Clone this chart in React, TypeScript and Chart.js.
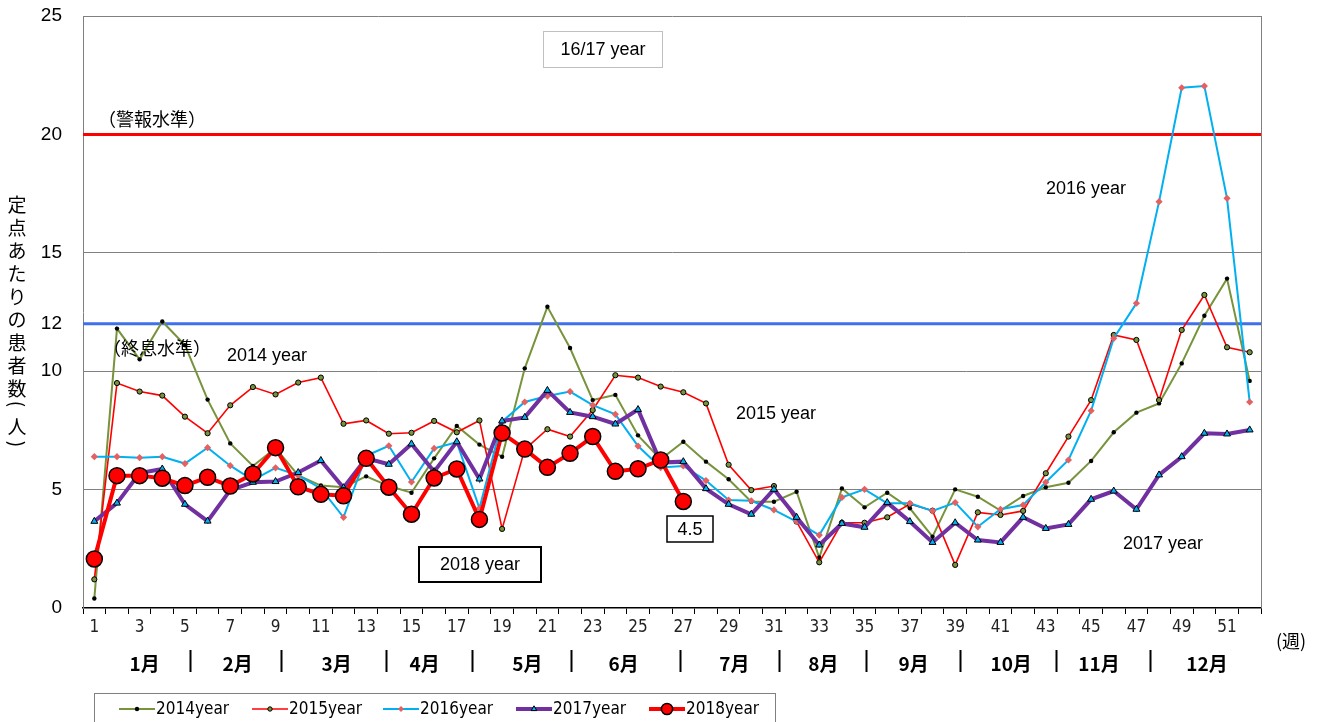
import React, { useEffect, useRef } from 'react';
import { Chart, registerables } from 'chart.js';

Chart.register(...registerables);

// ---------- data ----------
const WEEKS = ['1','2','3','4','5','6','7','8','9','10','11','12','13','14','15','16','17','18','19','20','21','22','23','24','25','26','27','28','29','30','31','32','33','34','35','36','37','38','39','40','41','42','43','44','45','46','47','48','49','50','51','52'];

const Y_TICKS = [0, 5, 10, 12, 15, 20, 25];
const ALERT_LEVEL = 20;
const END_LEVEL = 12;

const S2014 = [0.4, 11.8, 10.5, 12.1, 11.1, 8.8, 6.95, 6.0, 6.75, 5.6, 5.17, 5.1, 5.56, 5.15, 4.87, 6.32, 7.69, 6.9, 6.39, 10.12, 12.72, 10.98, 8.78, 9.0, 7.29, 6.28, 7.02, 6.18, 5.44, 4.49, 4.49, 4.91, 2.13, 5.05, 4.25, 4.87, 4.21, 3.01, 5.01, 4.7, 4.11, 4.73, 5.1, 5.29, 6.21, 7.42, 8.25, 8.64, 10.33, 12.34, 13.91, 9.59];
const S2015 = [1.21, 9.5, 9.14, 8.97, 8.08, 7.38, 8.56, 9.33, 9.02, 9.52, 9.73, 7.78, 7.92, 7.36, 7.4, 7.9, 7.42, 7.92, 3.34, 6.7, 7.55, 7.24, 8.36, 9.83, 9.73, 9.35, 9.11, 8.64, 6.05, 4.98, 5.15, 3.65, 1.93, 3.6, 3.6, 3.83, 4.39, 4.11, 1.82, 4.04, 3.93, 4.1, 5.69, 7.24, 8.78, 11.53, 11.32, 8.78, 11.74, 13.22, 11.01, 10.8];
const S2016 = [6.39, 6.39, 6.35, 6.39, 6.1, 6.77, 6.01, 5.4, 5.92, 5.6, 5.05, 3.83, 6.43, 6.85, 5.32, 6.74, 7.0, 4.21, 7.87, 8.7, 8.95, 9.14, 8.57, 8.18, 6.84, 5.93, 6.0, 5.38, 4.56, 4.53, 4.14, 3.65, 3.08, 4.67, 5.01, 4.42, 4.42, 4.1, 4.45, 3.43, 4.17, 4.35, 5.31, 6.25, 8.33, 11.39, 12.87, 17.16, 21.97, 22.04, 17.3, 8.7];
const S2017 = [3.66, 4.43, 5.7, 5.87, 4.38, 3.67, 4.98, 5.31, 5.34, 5.72, 6.23, 5.08, 6.32, 6.07, 6.93, 5.76, 7.02, 5.45, 7.9, 8.05, 9.19, 8.26, 8.08, 7.77, 8.38, 6.14, 6.18, 5.04, 4.38, 3.96, 5.01, 3.83, 2.66, 3.57, 3.41, 4.45, 3.65, 2.77, 3.6, 2.87, 2.77, 3.83, 3.36, 3.53, 4.59, 4.94, 4.17, 5.62, 6.39, 7.38, 7.35, 7.52];
const S2018 = [2.07, 5.59, 5.59, 5.48, 5.17, 5.52, 5.15, 5.66, 6.77, 5.12, 4.8, 4.74, 6.32, 5.1, 3.96, 5.49, 5.87, 3.74, 7.39, 6.71, 5.94, 6.53, 7.24, 5.77, 5.88, 6.25, 4.5];

const SERIES_NAMES = ['2014year', '2015year', '2016year', '2017year', '2018year'];

const MONTHS = ['1月', '2月', '3月', '4月', '5月', '6月', '7月', '8月', '9月', '10月', '11月', '12月'];
const MONTH_CENTER_WEEKS = [3.22, 7.33, 11.7, 15.58, 20.12, 24.36, 29.25, 33.18, 37.17, 41.47, 45.35, 50.12];
const MONTH_BOUNDARY_WEEKS = [5.23, 9.25, 13.88, 17.68, 22.03, 26.86, 31.23, 35.07, 39.2, 43.45, 47.6];

const Y_TITLE = ['定', '点', 'あ', 'た', 'り', 'の', '患', '者', '数', '(', '人', ')'];
const LATEST_LABEL = '4.5';

// ---------- styles ----------
const JP = '"Noto Sans CJK JP", "Noto Sans", sans-serif';
const SANS = '"Liberation Sans", Arial, sans-serif';
const NARROW = '"Liberation Sans Narrow", "DejaVu Sans Condensed", "Liberation Sans", sans-serif';

const STYLES = [
  { color: '#77933C', width: 2, pointStyle: 'circle', radius: 2.2, bg: '#000000', border: '#000000', bw: 0, legendR: 2.2, order: 4 },
  { color: '#FF0000', width: 1.6, pointStyle: 'circle', radius: 2.6, bg: '#77933C', border: '#000000', bw: 1, legendR: 2.2, order: 3 },
  { color: '#00B0F0', width: 2, pointStyle: 'rectRot', radius: 3.6, bg: '#E56060', border: '#E56060', bw: 0, legendR: 3, order: 2 },
  { color: '#7030A0', width: 4, pointStyle: 'triangle', radius: 4, bg: '#00B0F0', border: '#000000', bw: 1, legendR: 3.2, order: 1 },
  { color: '#FF0000', width: 4, pointStyle: 'circle', radius: 8, bg: '#FF0000', border: '#000000', bw: 1.5, legendR: 5.6, order: 0 },
];

function drawMarker(ctx: CanvasRenderingContext2D, style: string, x: number, y: number, r: number, bg: string, border: string, bw: number) {
  ctx.beginPath();
  if (style === 'rectRot') {
    ctx.moveTo(x, y - r); ctx.lineTo(x + r, y); ctx.lineTo(x, y + r); ctx.lineTo(x - r, y); ctx.closePath();
  } else if (style === 'triangle') {
    const h = r * 1.5;
    ctx.moveTo(x, y - r); ctx.lineTo(x + h * 0.58, y + r * 0.5); ctx.lineTo(x - h * 0.58, y + r * 0.5); ctx.closePath();
  } else {
    ctx.arc(x, y, r, 0, Math.PI * 2);
  }
  ctx.fillStyle = bg; ctx.fill();
  if (bw > 0) { ctx.lineWidth = bw; ctx.strokeStyle = border; ctx.stroke(); }
}

function boxText(ctx: CanvasRenderingContext2D, text: string, l: number, t: number, r: number, b: number, border: string, bw: number) {
  ctx.fillStyle = '#fff';
  ctx.fillRect(l, t, r - l, b - t);
  ctx.lineWidth = bw; ctx.strokeStyle = border;
  ctx.strokeRect(l, t, r - l, b - t);
  ctx.fillStyle = '#000';
  ctx.textAlign = 'center'; ctx.textBaseline = 'middle';
  ctx.fillText(text, (l + r) / 2, (t + b) / 2 + 1);
}

const decorPlugin = {
  id: 'decor',
  beforeDatasetsDraw(chart: any) {
    const { ctx, chartArea: a, scales } = chart;
    const y = scales.y;
    ctx.save();
    ctx.strokeStyle = '#808080'; ctx.lineWidth = 1;
    ctx.beginPath(); ctx.moveTo(a.right + 0.5, a.top); ctx.lineTo(a.right + 0.5, a.bottom); ctx.stroke();
    ctx.lineWidth = 3;
    ctx.strokeStyle = '#FF0000';
    const ya = y.getPixelForValue(ALERT_LEVEL);
    ctx.beginPath(); ctx.moveTo(a.left, ya); ctx.lineTo(a.right, ya); ctx.stroke();
    ctx.strokeStyle = '#3F6FEA';
    const ye = y.getPixelForValue(END_LEVEL);
    ctx.beginPath(); ctx.moveTo(a.left, ye); ctx.lineTo(a.right, ye); ctx.stroke();
    ctx.restore();
  },
  afterDraw(chart: any) {
    const { ctx, scales } = chart;
    const x = scales.x;
    const x0 = x.getPixelForValue(0);
    const step = x.getPixelForValue(1) - x0;
    const wx = (w: number) => x0 + (w - 1) * step;
    ctx.save();

    // in-plot annotations
    ctx.fillStyle = '#000';
    ctx.textBaseline = 'middle';
    ctx.font = `18px ${JP}`;
    ctx.textAlign = 'left';
    ctx.fillText('（警報水準）', 98, 119);
    ctx.fillText('（終息水準）', 103, 348);
    ctx.font = `18px ${SANS}`;
    ctx.textAlign = 'center';
    ctx.fillText('2014 year', 267, 356);
    ctx.fillText('2015 year', 776, 414);
    ctx.fillText('2016 year', 1086, 189);
    ctx.fillText('2017 year', 1163, 544);

    boxText(ctx, '16/17 year', 543.5, 31.5, 662.5, 67.5, '#C0C0C0', 1);
    boxText(ctx, '2018 year', 419, 547, 541, 582, '#000', 2);
    boxText(ctx, LATEST_LABEL, 667, 516, 713, 542, '#000', 1.5);

    // y title (vertical)
    ctx.font = `19px ${JP}`;
    ctx.textAlign = 'center';
    let ty = 205;
    Y_TITLE.forEach((ch) => {
      if (ch === '(' || ch === ')') {
        const cy = ch === '(' ? ty - 8 : ty - 6;
        ctx.save();
        ctx.translate(17, cy);
        ctx.rotate(Math.PI / 2);
        ctx.fillText(ch, 0, 0);
        ctx.restore();
        ty += 15;
      } else {
        ctx.fillText(ch, 17, ty);
        ty += 23;
      }
    });

    // month labels & separators
    ctx.font = `bold 19px ${JP}`;
    ctx.textAlign = 'center';
    MONTHS.forEach((m, i) => ctx.fillText(m, wx(MONTH_CENTER_WEEKS[i]), 664));
    ctx.strokeStyle = '#000'; ctx.lineWidth = 2;
    MONTH_BOUNDARY_WEEKS.forEach((w) => {
      const px = Math.round(wx(w)) + 0.5;
      ctx.beginPath(); ctx.moveTo(px, 650); ctx.lineTo(px, 672); ctx.stroke();
    });

    // week unit
    ctx.font = `18px ${JP}`;
    ctx.fillText('(週)', 1291, 641);

    // legend
    ctx.fillStyle = '#fff';
    ctx.fillRect(94.5, 693.5, 681, 40);
    ctx.strokeStyle = '#808080'; ctx.lineWidth = 1;
    ctx.strokeRect(94.5, 693.5, 681, 40);
    const legendX = [119, 252, 383, 516, 649];
    const ly = 709;
    ctx.font = `17px ${NARROW}`;
    ctx.textAlign = 'left';
    chart.data.datasets.forEach((ds: any, i: number) => {
      const st = STYLES[i];
      const lx = legendX[i];
      ctx.strokeStyle = st.color; ctx.lineWidth = st.width;
      ctx.beginPath(); ctx.moveTo(lx, ly); ctx.lineTo(lx + 36, ly); ctx.stroke();
      drawMarker(ctx, st.pointStyle, lx + 18, ly, st.legendR, st.bg, st.border, st.bw);
      ctx.fillStyle = '#000';
      ctx.fillText(ds.label, lx + 37, ly + 1);
    });

    ctx.restore();
  },
};

export default function App() {
  const ref = useRef<HTMLCanvasElement>(null);
  useEffect(() => {
    if (!ref.current) return;
    const all = [S2014, S2015, S2016, S2017, S2018];
    const chart = new Chart(ref.current, {
      type: 'line',
      data: {
        labels: WEEKS,
        datasets: all.map((d, i) => {
          const st = STYLES[i];
          return {
            label: SERIES_NAMES[i],
            data: d,
            borderColor: st.color,
            borderWidth: st.width,
            pointStyle: st.pointStyle as any,
            pointRadius: st.radius,
            pointBackgroundColor: st.bg,
            pointBorderColor: st.border,
            pointBorderWidth: st.bw,
            tension: 0,
            fill: false,
            order: st.order,
          };
        }),
      },
      options: {
        animation: false,
        responsive: false,
        devicePixelRatio: 1,
        events: [],
        layout: { padding: { left: 0, top: 16, right: 59, bottom: 0 } },
        plugins: { legend: { display: false }, tooltip: { enabled: false }, title: { display: false } },
        scales: {
          x: {
            type: 'category',
            offset: true,
            grid: { offset: true, drawOnChartArea: false, drawTicks: true, tickLength: 6, color: '#000', lineWidth: 1 },
            border: { color: '#000', width: 1.5 },
            ticks: {
              autoSkip: false, maxRotation: 0, minRotation: 0, padding: 3,
              font: { family: NARROW, size: 17 }, color: '#222',
              callback: (_v: any, i: number) => (i % 2 === 0 ? WEEKS[i] : ''),
            },
            afterFit: (s: any) => { s.height = 114; s.paddingLeft = 0; s.paddingRight = 0; },
          },
          y: {
            min: 0, max: 25,
            afterBuildTicks: (s: any) => { s.ticks = Y_TICKS.map((v) => ({ value: v })); },
            afterFit: (s: any) => { s.width = 83; s.paddingTop = 0; s.paddingBottom = 0; },
            grid: {
              drawTicks: false, lineWidth: 1,
              color: (c: any) => ([5, 10, 15, 25].includes(c.tick?.value) ? '#808080' : 'rgba(0,0,0,0)'),
            },
            border: { color: '#808080', width: 1 },
            ticks: { padding: 21, font: { family: SANS, size: 19 }, color: '#000', callback: (v: any) => String(v) },
          },
        },
      },
      plugins: [decorPlugin],
    });
    return () => chart.destroy();
  }, []);
  return (
    <div style={{ position: 'absolute', left: 0, top: 0, width: 1320, height: 722, background: '#fff' }}>
      <canvas ref={ref} width={1320} height={722} style={{ display: 'block' }} />
    </div>
  );
}
